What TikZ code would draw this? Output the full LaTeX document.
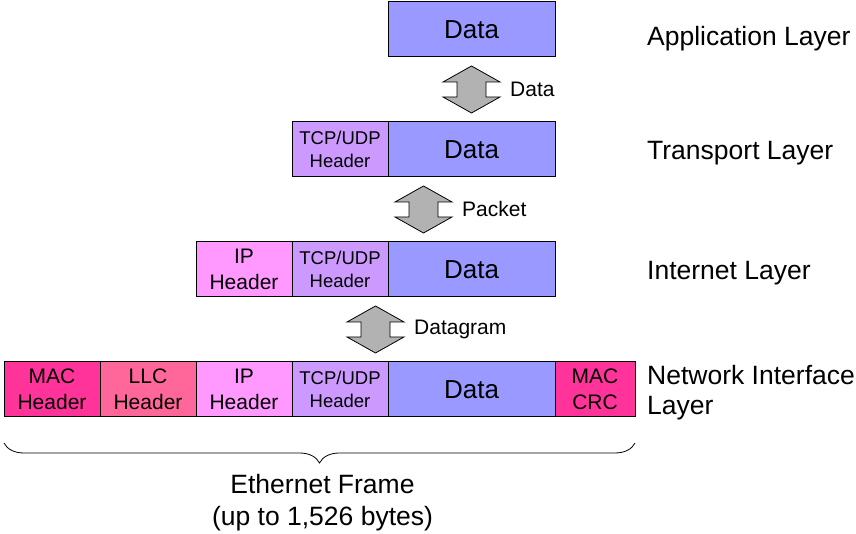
\documentclass[tikz,border=0pt]{standalone}
\usepackage{fontspec}
\setmainfont{Liberation Sans}
\usetikzlibrary{calc,positioning,decorations.pathreplacing}
\definecolor{datablue}{HTML}{9999FF}
\definecolor{tcppurple}{HTML}{CC99FF}
\definecolor{ippink}{HTML}{FF99FF}
\definecolor{llcrose}{HTML}{FF6699}
\definecolor{macmagenta}{HTML}{FF3399}
\definecolor{arrowgrey}{HTML}{B2B2B2}
\tikzset{
  pktbox/.style={
    draw=black,
    line width=1pt,
    minimum width=96pt,
    minimum height=55pt,
    inner sep=0pt,
    outer sep=0pt,
    align=center,
    font=\fontsize{21}{26}\selectfont
  },
  databox/.style={pktbox, fill=datablue, minimum width=167pt, font=\fontsize{26}{30}\selectfont},
  tcpbox/.style={pktbox, fill=tcppurple, font=\fontsize{18.5}{23}\selectfont},
  ipbox/.style={pktbox, fill=ippink},
  llcbox/.style={pktbox, fill=llcrose},
  macbox/.style={pktbox, fill=macmagenta},
  crcbox/.style={macbox, minimum width=80pt},
  updown/.style={draw=black, fill=arrowgrey, line width=0.8pt, line join=miter},
  steplabel/.style={anchor=west, inner sep=0pt, font=\fontsize{21}{25}\selectfont},
  layerlabel/.style={anchor=west, align=left, inner sep=0pt, font=\fontsize{26.5}{30}\selectfont},
  framebrace/.style={decorate, decoration={brace, mirror, amplitude=20pt}, line width=0.8pt},
  framelabel/.style={align=center, inner sep=0pt, font=\fontsize{26.5}{32}\selectfont}
}

\begin{document}
\begin{tikzpicture}[x=1pt, y=1pt, node distance=65pt and 0pt]
  \useasboundingbox (0,0) rectangle (856,534);
  % application layer
  \node[databox, anchor=north west] (appdata) at (388,532) {Data};
  % transport layer
  \node[databox, below=of appdata] (tdata) {Data};
  \node[tcpbox, left=of tdata] (ttcp) {TCP/UDP\\Header};
  % internet layer
  \node[databox, below=of tdata] (idata) {Data};
  \node[tcpbox, left=of idata] (itcp) {TCP/UDP\\Header};
  \node[ipbox, left=of itcp] (iip) {IP\\Header};
  % network interface layer
  \node[databox, below=of idata] (ndata) {Data};
  \node[tcpbox, left=of ndata] (ntcp) {TCP/UDP\\Header};
  \node[ipbox, left=of ntcp] (nip) {IP\\Header};
  \node[llcbox, left=of nip] (nllc) {LLC\\Header};
  \node[macbox, left=of nllc] (nmac) {MAC\\Header};
  \node[crcbox, right=of ndata] (ncrc) {MAC\\CRC};

  % up/down block arrows between the layers
  \coordinate (mid1) at ($(appdata.south west)!0.5!(tdata.north east)$);
  \coordinate (mid2) at ($(ttcp.south west)!0.5!(idata.north east)$);
  \coordinate (mid3) at ($(iip.south west)!0.5!(ndata.north east)$);
  \foreach \m in {mid1,mid2,mid3}
    \draw[updown] (\m) ++(0,23.5) -- ++(28.5,-16) -- ++(-14,0) -- ++(0,-15) -- ++(14,0)
      -- ++(-28.5,-16) -- ++(-28.5,16) -- ++(14,0) -- ++(0,15) -- ++(-14,0) -- cycle;
  \node[steplabel] (lbl1) at ([xshift=38.5pt]mid1) {Data};
  \node[steplabel] (lbl2) at ([xshift=38.5pt]mid2) {Packet};
  \node[steplabel] (lbl3) at ([xshift=38.5pt]mid3) {Datagram};

  \node[layerlabel] (applayer) at (647,495) {Application Layer};
  \node[layerlabel] (translayer) at (647,381) {Transport Layer};
  \node[layerlabel] (netlayer) at (647,261) {Internet Layer};
  \node[layerlabel] (niflayer) at (647,141) {Network Interface\\Layer};

  \coordinate (braceL) at ([yshift=-26pt]nmac.south west);
  \coordinate (braceR) at ([yshift=-26pt]ncrc.south east);
  \draw[framebrace] (braceL) -- (braceR);
  \node[framelabel] (frame) at ($(braceL)!0.5!(braceR)+(3,-60)$) {Ethernet Frame\\(up to 1,526 bytes)};
\end{tikzpicture}
\end{document}
